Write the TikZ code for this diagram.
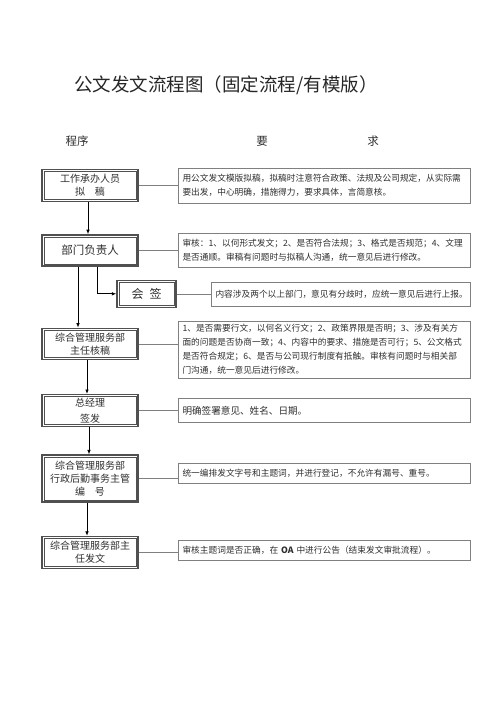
\documentclass[tikz,border=0pt]{standalone}
\usepackage{fontspec}
\newfontfamily\cjk{Noto Sans CJK SC}
\usetikzlibrary{positioning,arrows.meta,calc}
\definecolor{boxgray}{HTML}{505050}
\definecolor{notegray}{HTML}{808080}
\definecolor{inkgray}{HTML}{2E2E2E}

\begin{document}
\begin{tikzpicture}[
    x=1pt, y=-1pt,
    >={Latex[length=4.5pt,width=3.6pt]},
    every node/.style={font=\cjk, text=inkgray},
    procbox/.style={
        draw=boxgray, line width=1.4pt,
        minimum width=96pt, minimum height=#1, inner sep=1pt,
        align=center, font=\cjk\fontsize{10}{13}\selectfont
    },
    procbox/.default=32pt,
    innerframe/.style={draw=boxgray, line width=0.6pt},
    notebox/.style={
        draw=notegray, line width=0.6pt, minimum height=#1,
        text width=283pt, inner xsep=4.5pt, inner ysep=2.5pt,
        align=left, font=\cjk\fontsize{8.7}{13.8}\selectfont
    },
    notebox/.default=20pt,
    head/.style={font=\cjk\fontsize{11.5}{14}\selectfont},
    flow/.style={->, line width=0.8pt, black},
    link/.style={draw=notegray, line width=0.6pt},
]
\useasboundingbox (0,0) rectangle (496,703);

% === Title and column heads ===
\node[font=\cjk\fontsize{18.5}{22}\selectfont, text=black!85] (title) at (226,85)
    {公文发文流程图（固定流程/有模版）};
\node[head] (colstep) at (77,141) {程序};
\node[head] (colreq1) at (262,141) {要};
\node[head] (colreq2) at (373,141) {求};

% === Steps ===
\node[procbox=32pt] (draft) at (90,185.5) {工作承办人员\\拟\quad 稿};
\node[notebox=35pt, right=39pt of draft] (draftnote) {
    用公文发文模版拟稿，拟稿时注意符合政策、法规及公司规定，从实际需\\
    要出发，中心明确，措施得力，要求具体，言简意核。};

\node[procbox=31pt, below=32pt of draft, font=\cjk\fontsize{11.5}{14}\selectfont] (dept) {部门负责人};
\node[notebox=34pt, right=39pt of dept] (deptnote) {
    审核：1、以何形式发文；2、是否符合法规；3、格式是否规范；4、文理\\
    是否通顺。审稿有问题时与拟稿人沟通，统一意见后进行修改。};

\node[procbox=27pt, minimum width=59pt, below=13pt of dept.south, xshift=56.5pt,
    font=\cjk\fontsize{12}{14}\selectfont] (cosign) {会\enspace 签};
\node[notebox=24pt, text width=250pt, right=34pt of cosign] (cosignnote) {
    内容涉及两个以上部门，意见有分歧时，应统一意见后进行上报。};

\node[procbox=31pt, below=61pt of dept] (review) {综合管理服务部\\主任核稿};
\node[notebox=57pt, right=39pt of review, yshift=-5.5pt] (reviewnote) {
    1、是否需要行文，以何名义行文；2、政策界限是否明；3、涉及有关方\\
    面的问题是否协商一致；4、内容中的要求、措施是否可行；5、公文格式\\
    是否符合规定；6、是否与公司现行制度有抵触。审核有问题时与相关部\\
    门沟通，统一意见后进行修改。};

\node[procbox=32pt, below=34pt of review] (sign) {总经理\\[3pt]签发};
\node[notebox=24pt, right=39pt of sign, font=\cjk\fontsize{9.6}{13}\selectfont] (signnote) {
    明确签署意见、姓名、日期。};

\node[procbox=47pt, below=27pt of sign] (number) {综合管理服务部\\行政后勤事务主管\\编\quad 号};
\node[notebox=20pt, right=39pt of number, yshift=5pt] (numbernote) {
    统一编排发文字号和主题词，并进行登记，不允许有漏号、重号。};

\node[procbox=32pt, below=33pt of number] (issue) {综合管理服务部主\\任发文};
\node[notebox=20pt, right=39pt of issue, yshift=2.5pt] (issuenote) {
    审核主题词是否正确，在 \textbf{OA} 中进行公告（结束发文审批流程）。};

% inner line of the double frames
\foreach \n in {draft,dept,cosign,review,sign,number,issue}
    \draw[innerframe] ([shift={(2.7pt,-2.7pt)}]\n.north west)
        rectangle ([shift={(-2.7pt,2.7pt)}]\n.south east);

% === Links to requirements ===
\draw[link] (draft.east) -- (draft.east -| draftnote.west);
\draw[link] (dept.east) -- (dept.east -| deptnote.west);
\draw[link] (cosign.east) -- (cosign.east -| cosignnote.west);
\draw[link] (review.east) -- (review.east -| reviewnote.west);
\draw[link] (sign.east) -- (sign.east -| signnote.west);
\draw[link] (number.east) -- (number.east -| numbernote.west);
\draw[link] (issue.east) -- (issue.east -| issuenote.west);

% === Flow arrows ===
\draw[flow] ([xshift=-2pt]draft.south) -- ([xshift=-2pt]dept.north);
\draw[flow] ([xshift=-12pt]dept.south) -- ([xshift=-12pt]review.north);
\draw[flow] ([xshift=7pt]dept.south) |- (cosign.west);
\draw[flow] ([xshift=-3pt]review.south) -- ([xshift=-3pt]sign.north);
\draw[flow] ([xshift=-1pt]sign.south) -- ([xshift=-1pt]number.north);
\draw[flow] ([xshift=-3pt]number.south) -- ([xshift=-3pt]issue.north);

\end{tikzpicture}
\end{document}
